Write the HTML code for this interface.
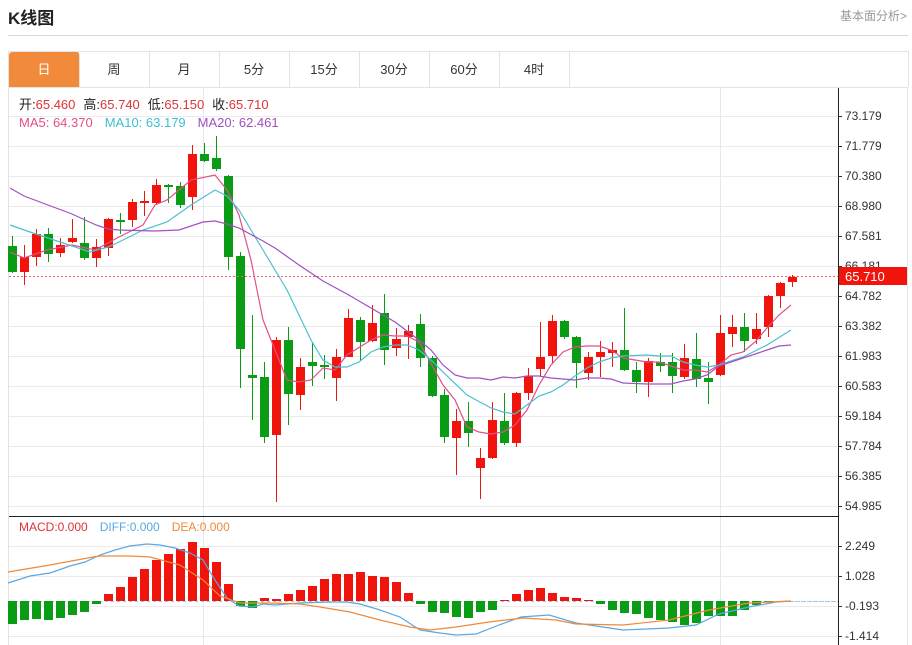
<!DOCTYPE html>
<html><head><meta charset="utf-8"><style>
body{margin:0;width:912px;height:645px;background:#fff;font-family:"Liberation Sans","Noto Sans CJK SC",sans-serif;overflow:hidden;position:relative}
.t{position:absolute;left:8px;top:4px;font-size:17px;font-weight:bold;color:#222}
.r{position:absolute;right:5px;top:7px;font-size:12px;color:#999}
.hl{position:absolute;left:8px;top:35px;width:900px;height:1px;background:#d8d8d8}
.tabs{position:absolute;left:8px;top:51px;width:899px;height:35px;border:1px solid #e3e3e3;border-bottom:none}
.tab{position:absolute;top:0;height:35px;width:70px;line-height:35px;text-align:center;font-size:13px;color:#333;border-right:1px solid #e3e3e3}
.tab.a{background:#f28a3c;color:#fff;border-radius:3px 3px 0 0}
svg{position:absolute;left:0;top:0}
</style></head><body>
<div class="t">K线图</div><div class="r">基本面分析&gt;</div><div class="hl"></div>
<div class="tabs">
<div class="tab a" style="left:0">日</div><div class="tab" style="left:70px">周</div><div class="tab" style="left:140px">月</div><div class="tab" style="left:210px">5分</div><div class="tab" style="left:280px">15分</div><div class="tab" style="left:350px">30分</div><div class="tab" style="left:420px">60分</div><div class="tab" style="left:490px">4时</div>
</div>
<svg id="s" width="912" height="645" xmlns="http://www.w3.org/2000/svg"></svg>
<script>
var s=document.getElementById('s'),h='';
var R='#f0140c',G='#0a9c14';
h+='<line x1="8.5" y1="87" x2="8.5" y2="645" stroke="#e3e3e3"/>';
h+='<line x1="907.5" y1="87" x2="907.5" y2="645" stroke="#e3e3e3"/>';
h+='<line x1="8" y1="87.5" x2="908" y2="87.5" stroke="#e3e3e3"/>';
var pl=['73.179','71.779','70.380','68.980','67.581','66.181','64.782','63.382','61.983','60.583','59.184','57.784','56.385','54.985'];
for(var i=0;i<14;i++){var y=116+i*30;h+='<line x1="9" y1="'+(y+.5)+'" x2="838" y2="'+(y+.5)+'" stroke="#ebebeb"/>';
h+='<line x1="838" y1="'+(y+.5)+'" x2="842" y2="'+(y+.5)+'" stroke="#333"/>';
h+='<text x="845" y="'+(y+4)+'" font-size="12" fill="#333">'+pl[i]+'</text>';}
[[546,'2.249'],[576,'1.028'],[606,'-0.193'],[636,'-1.414']].forEach(function(a){h+='<line x1="9" y1="'+(a[0]+.5)+'" x2="838" y2="'+(a[0]+.5)+'" stroke="#ebebeb"/><line x1="838" y1="'+(a[0]+.5)+'" x2="842" y2="'+(a[0]+.5)+'" stroke="#333"/><text x="845" y="'+(a[0]+4)+'" font-size="12" fill="#333">'+a[1]+'</text>';});
[203,720].forEach(function(x){h+='<line x1="'+(x+.5)+'" y1="88" x2="'+(x+.5)+'" y2="645" stroke="#e3e8ef"/>';});
h+='<line x1="838.5" y1="88" x2="838.5" y2="645" stroke="#222"/>';
h+='<line x1="9" y1="516.5" x2="838" y2="516.5" stroke="#222"/>';
// candles: [green?, bodyTop, bodyBot, wickTop, wickBot]
var C=[[1,246,272,236,273],[0,257,272,245,285],[0,234,257,229,266],[1,234,254,228,262],[0,245,253,238,257],[0,238,242,219,243],[1,243,258,217,260],[0,247,258,239,267],[0,219,248,218,256],[1,220,221,213,234],[0,202,220,199,227],[0,201,203,191,216],[0,185,203,179,205],[1,185,187,184,203],[1,186,205,182,208],[0,154,197,145,210],[1,154,161,143,162],[1,158,169,136,171],[1,176,257,175,270],[1,256,349,252,388],[1,375,378,315,420],[1,377,437,362,443],[0,340,435,337,502],[1,340,394,327,425],[0,367,395,358,410],[1,362,366,342,386],[1,365,367,355,379],[0,357,378,349,401],[0,318,357,309,357],[1,320,342,317,361],[0,323,341,305,342],[1,313,350,294,365],[0,339,348,328,356],[0,331,337,325,359],[1,324,358,314,367],[1,358,396,356,397],[1,395,437,389,443],[0,421,438,409,475],[1,421,433,402,447],[0,458,468,448,499],[0,420,458,402,459],[1,421,443,393,445],[0,393,443,392,447],[0,376,393,368,400],[0,357,369,322,377],[0,321,356,315,363],[1,321,337,320,339],[1,337,363,336,388],[0,357,373,352,380],[0,352,357,341,377],[0,350,353,342,367],[1,350,370,308,371],[1,370,382,362,393],[0,361,382,358,397],[1,362,366,353,372],[1,362,376,353,393],[0,358,377,344,379],[1,359,379,333,387],[1,378,382,362,404],[0,333,375,315,376],[0,327,334,315,347],[1,327,341,313,352],[0,329,339,313,344],[0,296,327,295,337],[0,283,296,282,308],[0,277,282,275,287]];
C.forEach(function(c,i){var x=12+i*12,col=c[0]?G:R,bt=c[1],bb=Math.max(c[2],c[1]+2);
h+='<line x1="'+(x+.5)+'" y1="'+c[3]+'" x2="'+(x+.5)+'" y2="'+c[4]+'" stroke="'+col+'"/>';
h+='<rect x="'+(x-4)+'" y="'+bt+'" width="9" height="'+(bb-bt)+'" fill="'+col+'"/>';});
function P(pts,col){h+='<polyline fill="none" stroke="'+col+'" stroke-width="1.2" points="'+pts+'"/>';}
P('10,252 24,258 47,250 72,245 95,250 119,237 143,225 155,205 167,200 191,180 215,175 227,190 239,215 251,260 263,320 275,350 287,380 299,382 311,380 323,368 335,370 347,355 371,340 383,335 395,336 407,336 419,342 443,385 455,400 467,427 479,432 491,434 503,432 515,425 527,410 539,385 551,365 563,352 575,347 587,346 599,346 611,350 623,358 635,360 647,362 659,362 671,366 683,370 695,370 707,372 719,365 731,355 743,352 755,342 767,328 779,315 791,305','#e24f8a');
P('10,225 30,232 60,242 90,252 108,247 119,242 143,230 167,222 191,205 215,190 227,196 239,210 251,230 263,250 275,270 287,290 299,315 311,340 323,360 335,367 347,367 359,362 371,352 383,347 395,345 407,345 419,350 431,360 443,372 467,395 491,408 503,412 515,414 527,405 539,396 551,392 563,385 575,376 587,368 599,362 611,358 623,356 647,355 659,356 671,356 683,362 695,365 707,367 719,365 743,357 767,345 791,330','#4cbfd0');
P('10,188 24,196 48,205 72,214 96,225 108,229 119,230 155,231 179,230 203,222 215,221 227,224 239,228 263,241 275,248 299,265 323,281 347,294 371,308 395,322 419,340 431,350 443,365 455,375 467,378 479,378 491,380 503,377 515,378 527,376 539,376 551,378 575,380 587,378 599,378 611,379 623,383 647,384 659,384 671,384 683,381 695,379 707,375 719,366 743,358 767,350 779,346 791,345','#a050c0');
h+='<line x1="9" y1="276.5" x2="838" y2="276.5" stroke="#f06060" stroke-dasharray="2,2"/>';
h+='<rect x="839" y="267" width="68" height="18" fill="'+R+'"/><text x="845" y="281" font-size="13" fill="#fff">65.710</text>';
// macd
h+='<line x1="9" y1="601.5" x2="838" y2="601.5" stroke="#9cc8e6" stroke-dasharray="3,3"/>';
var M=[624,620,619,620,618,615,612,604,594,587,577,569,560,554,549,542,548,562,584,606,608,598,599,594,590,586,579,574,574,572,576,577,582,593,604,612,613,617,618,612,610,600,594,590,588,593,597,598,600,604,610,613,614,618,620,622,625,623,616,616,616,610,605,602];
M.forEach(function(v,i){var x=12+i*12,t=Math.min(v,601),b=Math.max(v,601);if(b-t<1)b=t+1;h+='<rect x="'+(x-4)+'" y="'+t+'" width="9" height="'+(b-t)+'" fill="'+(v>601?G:R)+'"/>';});
P('8,583 30,576 50,573 70,566 85,562 100,555 115,550 130,546 147,544 160,545 175,548 190,553 203,560 215,580 227,598 239,606 253,607 263,604 275,605 300,603 330,602 347,602 360,604 380,610 400,617 420,630 440,633 456,635 476,634 499,625 521,617 549,615 576,623 623,630 669,628 696,625 719,614 749,607 776,602 791,601','#5aa8e0');
P('8,572 50,565 93,557 100,556 130,556 150,557 180,565 203,580 220,596 240,603 270,603 300,604 320,607 350,612 380,620 410,627 430,630 456,627 489,622 523,618 556,620 576,624 623,625 669,620 709,610 749,603 791,601','#f08a3a');
h+='<line x1="791" y1="601.5" x2="838" y2="601.5" stroke="#9cc8e6" stroke-dasharray="3,3"/>';
// info text
h+='<text x="19" y="109" font-size="13"><tspan fill="#222">开:</tspan><tspan fill="#e03333">65.460</tspan><tspan fill="#222" dx="8">高:</tspan><tspan fill="#e03333">65.740</tspan><tspan fill="#222" dx="8">低:</tspan><tspan fill="#e03333">65.150</tspan><tspan fill="#222" dx="8">收:</tspan><tspan fill="#e03333">65.710</tspan></text>';
h+='<text x="19" y="127" font-size="13"><tspan fill="#e24f8a">MA5: 64.370</tspan><tspan fill="#3cbfd0" dx="12">MA10: 63.179</tspan><tspan fill="#a050c0" dx="12">MA20: 62.461</tspan></text>';
h+='<text x="19" y="531" font-size="12"><tspan fill="#e03333">MACD:0.000</tspan><tspan fill="#5aa8e0" dx="12">DIFF:0.000</tspan><tspan fill="#f08a3a" dx="12">DEA:0.000</tspan></text>';
s.innerHTML=h;
</script>
</body></html>
